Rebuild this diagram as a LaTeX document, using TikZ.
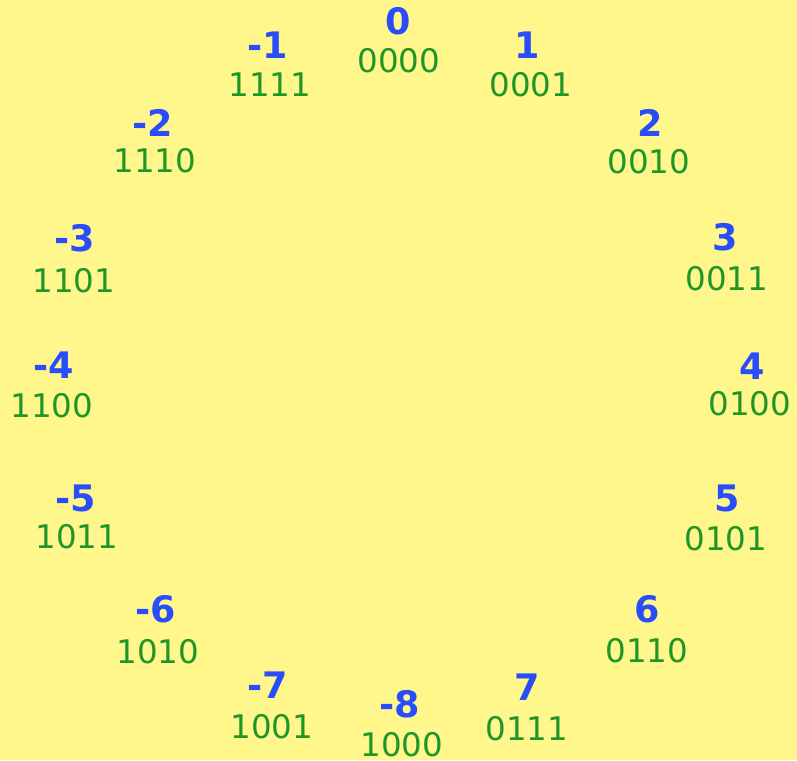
\documentclass[tikz,border=0pt]{standalone}
\usepackage{fontspec}
\setmainfont{DejaVu Sans}
\definecolor{bgyellow}{RGB}{255,246,140}
\definecolor{numblue}{RGB}{40,78,252}
\definecolor{bingreen}{RGB}{30,150,40}
\tikzset{
  numlabel/.style={anchor=base, inner sep=0pt, text=numblue, font=\bfseries\fontsize{36.5}{36.5}\selectfont},
  binlabel/.style={anchor=base, inner sep=0pt, text=bingreen, font=\fontsize{32.5}{32.5}\selectfont}
}
\begin{document}
\begin{tikzpicture}[x=1pt,y=-1pt]
\fill[bgyellow] (0,0) rectangle (797,760);
\useasboundingbox (0,0) rectangle (797,760);
% numbers
\node[numlabel] (n0) at (398,35) {0};
\node[numlabel] (n1) at (527,59) {1};
\node[numlabel] (m1) at (268,59) {-1};
\node[numlabel] (n2) at (650,136) {2};
\node[numlabel] (m2) at (153,136) {-2};
\node[numlabel] (n3) at (725,250) {3};
\node[numlabel] (m3) at (75,251) {-3};
\node[numlabel] (n4) at (752,379) {4};
\node[numlabel] (m4) at (54,378) {-4};
\node[numlabel] (n5) at (727,511) {5};
\node[numlabel] (m5) at (76,511) {-5};
\node[numlabel] (n6) at (647,622) {6};
\node[numlabel] (m6) at (156,622) {-6};
\node[numlabel] (n7) at (527,700) {7};
\node[numlabel] (m7) at (268,698) {-7};
\node[numlabel] (m8) at (400,717) {-8};
% binary
\node[binlabel] (b0) at (399,72) {0000};
\node[binlabel] (b1) at (531,96) {0001};
\node[binlabel] (bm1) at (270,96) {1111};
\node[binlabel] (b2) at (649,173) {0010};
\node[binlabel] (bm2) at (155,172) {1110};
\node[binlabel] (b3) at (727,290) {0011};
\node[binlabel] (bm3) at (74,292) {1101};
\node[binlabel] (b4) at (750,415) {0100};
\node[binlabel] (bm4) at (52,417) {1100};
\node[binlabel] (b5) at (726,550) {0101};
\node[binlabel] (bm5) at (77,548) {1011};
\node[binlabel] (b6) at (647,662) {0110};
\node[binlabel] (bm6) at (158,663) {1010};
\node[binlabel] (b7) at (527,740) {0111};
\node[binlabel] (bm7) at (272,738) {1001};
\node[binlabel] (bm8) at (402,756) {1000};
\end{tikzpicture}
\end{document}
